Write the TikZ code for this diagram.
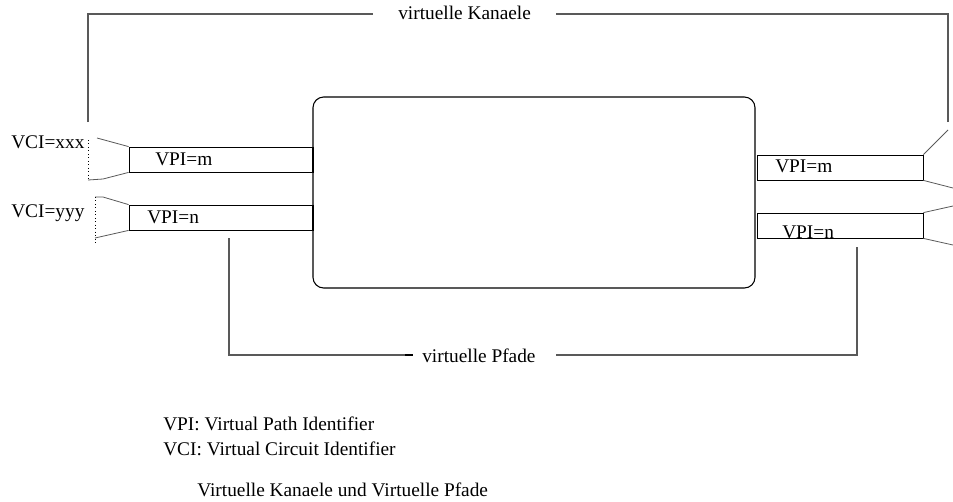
\documentclass[tikz,border=0pt]{standalone}
\usepackage{fontspec}
\setmainfont{Liberation Serif}
\usetikzlibrary{positioning}

\begin{document}
\begin{tikzpicture}[
  x=0.75pt, y=-0.75pt,
  font=\fontsize{14.5}{16}\selectfont,
  lbl/.style={inner sep=0pt, anchor=base west},
  pipe/.style={draw, line width=0.6pt, minimum height=18.75pt, inner sep=0pt},
  fun/.style={draw=black!65, line width=0.6pt},
  brk/.style={draw=black!65, line width=0.8pt},
  dot/.style={draw, dotted, line width=0.6pt}
]
\useasboundingbox (0,0) rectangle (953,501);
% ---------------- switch
\node[draw, line width=0.8pt, rounded corners=8pt, minimum width=331.5pt, minimum height=143.25pt] (sw) at (534,192.5) {};
% ---------------- left pipes
\node[pipe, minimum width=138pt] (lm) at (221,159.5) {};
\node[pipe, minimum width=138pt] (ln) at (221,217.5) {};
\draw[line width=1.4pt] (lm.north east) -- (lm.south east);
\draw[line width=1.4pt] (ln.north east) -- (ln.south east);
\node[lbl] (lmt) at (155,165) {VPI=m};
\node[lbl] (lnt) at (147,223) {VPI=n};
% ---------------- right pipes
\node[pipe, minimum width=124.5pt] (rm) at (840,167.5) {};
\node[pipe, minimum width=124.5pt] (rn) at (840,225.5) {};
\node[lbl] (rmt) at (775,172) {VPI=m};
\node[lbl] (rnt) at (782,238) {VPI=n};
% ---------------- channel ids
\node[lbl] (vx) at (11,148) {VCI=xxx};
\node[lbl] (vy) at (11,217) {VCI=yyy};
% ---------------- funnels left
\coordinate (lm1) at (97,138);
\coordinate (lm2) at (88,180);
\coordinate (ln1) at (95,197);
\coordinate (ln2) at (95,238);
\draw[fun] (lm1) -- (lm.north west);
\draw[fun] (lm2) -- (103,179) -- (lm.south west);
\draw[fun] (ln1) -- (103,197) -- (ln.north west);
\draw[fun] (ln2) -- (ln.south west);
\draw[dot] (88,140) -- (lm2);
\draw[dot] (ln1) -- (95,245);
% ---------------- funnels right
\coordinate (rm1) at (948,130);
\coordinate (rm2) at (953,188);
\coordinate (rn1) at (953,206);
\coordinate (rn2) at (953,245);
\draw[fun] (rm.north east) -- (rm1);
\draw[fun] (rm.south east) -- (rm2);
\draw[fun] (rn.north east) -- (rn1);
\draw[fun] (rn.south east) -- (rn2);
% ---------------- brackets
\node[lbl] (kan) at (398,19) {virtuelle Kanaele};
\node[lbl] (pfa) at (422,362) {virtuelle Pfade};
\coordinate (kl) at (88,122);
\coordinate (kr) at (948,122);
\coordinate (kla) at (373,14);
\coordinate (kra) at (556,14);
\draw[brk] (kl) |- (kla);
\draw[brk] (kr) |- (kra);
\coordinate (pl) at (229,238);
\coordinate (pr) at (857,247);
\coordinate (pla) at (413,355);
\coordinate (pra) at (556,355);
\draw[brk] (pl) |- (pla);
\draw[brk] (pr) |- (pra);
\draw[line width=1.6pt] (405,355) -- (pla);
% ---------------- legend
\node[lbl] (l1) at (163,430) {VPI: Virtual Path Identifier};
\node[lbl] (l2) at (163,455) {VCI: Virtual Circuit Identifier};
\node[lbl] (cap) at (197,496) {Virtuelle Kanaele und Virtuelle Pfade};
\end{tikzpicture}
\end{document}
